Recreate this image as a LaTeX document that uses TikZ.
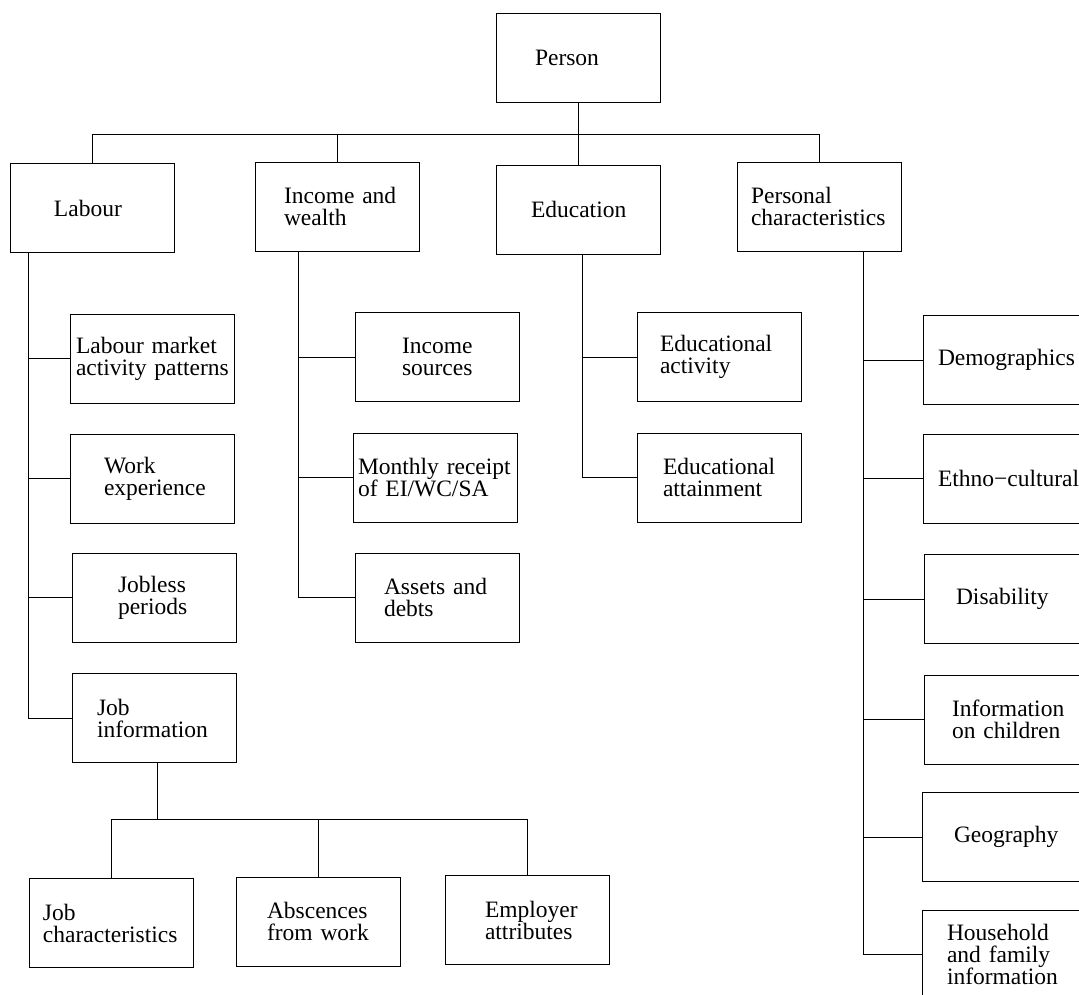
\documentclass[tikz,border=0pt]{standalone}
\usepackage{fontspec}
\setmainfont{Liberation Serif}
\begin{document}
\begin{tikzpicture}[x=1pt,y=-1pt, line width=0.9pt,
  bx/.style={draw, rectangle, minimum width=164pt, minimum height=89pt,
      inner xsep=0pt, inner ysep=0pt, text width=162pt, align=left,
      font=\fontsize{23.5}{22}\selectfont,
      execute at begin node={\leftskip=#1pt\relax}},
  ]
\clip (0,0) rectangle (1079,994);
% top level
\node[bx=38] (per) at (578,57.5) {Person};
\node[bx=43] (lab) at (92,208) {Labour};
\node[bx=28] (inc) at (337,206.5) {Income and\\wealth};
\node[bx=34] (edu) at (578,209.5) {Education};
\node[bx=13] (pc) at (819,206.5) {Personal\\characteristics};
% labour children
\node[bx=5]  (lmap) at (152,358.5) {Labour market\\activity patterns};
\node[bx=33] (we)   at (152,478.5) {Work\\experience};
\node[bx=45] (jp)   at (154,597.5) {Jobless\\periods};
\node[bx=24] (job)  at (154,718)   {Job\\information};
% job children
\node[bx=13] (jc)  at (111,923)   {Job\\characteristics};
\node[bx=30] (ab)  at (318,921.5) {Abscences\\from work};
\node[bx=39] (emp) at (527,920)   {Employer\\attributes};
% income children
\node[bx=46] (isrc) at (437,357)   {Income\\sources};
\node[bx=4]  (mr)   at (435,477.5) {Monthly receipt\\of EI/WC/SA};
\node[bx=28] (ad)   at (437,597.5) {Assets and\\debts};
% education children
\node[bx=22] (eact) at (719,357)   {Educational\\activity};
\node[bx=25] (eatt) at (719,477.5) {Educational\\attainment};
% personal children
\node[bx=14] (dem) at (1005,360)   {Demographics};
\node[bx=14] (eth) at (1005,478.5) {Ethno−cultural};
\node[bx=31] (dis) at (1006,599)   {Disability};
\node[bx=27] (ioc) at (1006,719.5) {Information\\on children};
\node[bx=31] (geo) at (1004,837)   {Geography};
\node[bx=24] (hh)  at (1004,954.5) {Household\\and family\\information};
% top bus
\coordinate (bus) at (0,134);
\draw (lab.north) -- (lab.north |- bus) -- (pc.north |- bus) -- (pc.north);
\draw (inc.north) -- (inc.north |- bus);
\draw (per.south) -- (edu.north);
% labour spine
\coordinate (ls) at ([xshift=19pt]lab.south west);
\draw (ls) |- (job.west);
\foreach \n in {lmap,we,jp} \draw (\n.west) -- (\n.west -| ls);
% job bus
\coordinate (jb) at (0,819);
\draw ([xshift=3pt]job.south) -- ([xshift=3pt]job.south |- jb);
\draw (jc.north |- jb) -- (emp.north |- jb);
\foreach \n in {jc,ab,emp} \draw (\n.north) -- (\n.north |- jb);
% income spine
\coordinate (is) at ([xshift=44pt]inc.south west);
\draw (is) |- (ad.west);
\foreach \n in {isrc,mr} \draw (\n.west) -- (\n.west -| is);
% education spine
\coordinate (es) at ([xshift=87pt]edu.south west);
\draw (es) |- (eatt.west);
\draw (eact.west) -- (eact.west -| es);
% personal spine
\coordinate (ps) at ([xshift=127pt]pc.south west);
\draw (ps) |- (hh.west);
\foreach \n in {dem,eth,dis,ioc,geo} \draw (\n.west) -- (\n.west -| ps);
\end{tikzpicture}
\end{document}
